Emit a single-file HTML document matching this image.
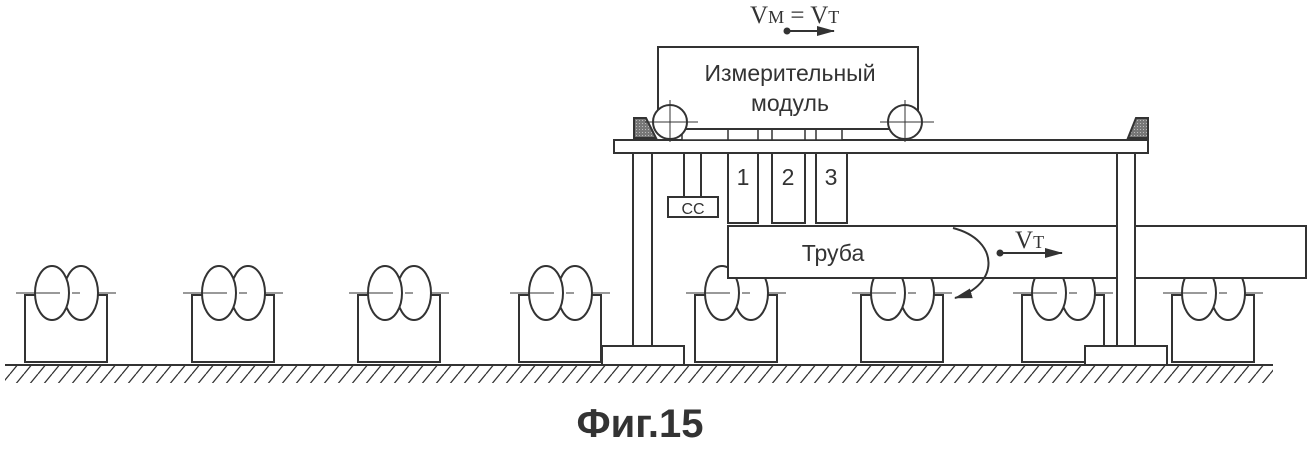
<!DOCTYPE html>
<html><head><meta charset="utf-8"><style>body{margin:0;background:#fff}</style></head><body>
<svg width="1314" height="448" viewBox="0 0 1314 448" xmlns="http://www.w3.org/2000/svg" font-family="Liberation Sans, sans-serif">
<defs>
<pattern id="h" width="14" height="17" patternUnits="userSpaceOnUse"><path d="M-4 17 L10 0 M10 17 L24 0" stroke="#333" stroke-width="1.3"/></pattern>
<marker id="a" markerWidth="18" markerHeight="12" refX="17" refY="6" orient="auto" markerUnits="userSpaceOnUse"><path d="M0 1 L18 6 L0 11 Z" fill="#333"/></marker>
<pattern id="g" width="3" height="3" patternUnits="userSpaceOnUse"><rect width="3" height="3" fill="#777"/><rect width="1" height="1" fill="#bbb"/></pattern>
</defs>
<g stroke="#333" stroke-width="2" fill="none">
<line x1="5" y1="365" x2="1273" y2="365"/>
<rect x="5" y="366" width="1268" height="17" fill="url(#h)" stroke="none"/>
<g id="s">
<rect x="25" y="295" width="82" height="67" fill="#fff"/>
<line x1="16" y1="293" x2="116" y2="293" stroke-width="1"/>
<ellipse cx="81" cy="293" rx="17" ry="27" fill="#fff"/>
<ellipse cx="52" cy="293" rx="17" ry="27" fill="#fff"/>
<line x1="16" y1="293" x2="60" y2="293" stroke-width="1"/>
<line x1="72" y1="293" x2="80" y2="293" stroke-width="1"/>
</g>
<use href="#s" x="167"/><use href="#s" x="333"/><use href="#s" x="494"/>
<use href="#s" x="670"/><use href="#s" x="836"/><use href="#s" x="997"/><use href="#s" x="1147"/>
<rect x="728" y="226" width="578" height="52" fill="#fff"/>
<rect x="633" y="153" width="19" height="193" fill="#fff"/>
<rect x="1117" y="153" width="18" height="193" fill="#fff"/>
<rect x="602" y="346" width="82" height="19" fill="#fff"/>
<rect x="1085" y="346" width="82" height="19" fill="#fff"/>
<rect x="614" y="140" width="534" height="13" fill="#fff"/>
<rect x="682" y="128" width="160" height="12" fill="#fff" stroke-width="1.5"/>
<line x1="728" y1="128" x2="728" y2="140" stroke-width="1.5"/><line x1="758" y1="128" x2="758" y2="140" stroke-width="1.5"/>
<line x1="772" y1="128" x2="772" y2="140" stroke-width="1.5"/><line x1="805" y1="128" x2="805" y2="140" stroke-width="1.5"/>
<line x1="816" y1="128" x2="816" y2="140" stroke-width="1.5"/>
<path d="M634 138 L634 118 L646 118 L656 138 Z" fill="url(#g)"/>
<path d="M1148 138 L1148 118 L1136 118 L1128 138 Z" fill="url(#g)"/>
<rect x="658" y="47" width="260" height="82" fill="#fff"/>
<circle cx="670" cy="122" r="17" fill="#fff"/>
<circle cx="905" cy="122" r="17" fill="#fff"/>
<path d="M645 122 H698 M670 100 V142 M880 122 H934 M905 100 V142" stroke-width="1"/>
<rect x="728" y="153" width="30" height="70" fill="#fff"/>
<rect x="772" y="153" width="33" height="70" fill="#fff"/>
<rect x="816" y="153" width="31" height="70" fill="#fff"/>
<line x1="684" y1="153" x2="684" y2="197"/><line x1="701" y1="153" x2="701" y2="197"/>
<rect x="668" y="197" width="50" height="20" fill="#fff"/>
<path d="M953 228 C 1000 240, 1000 285, 955 298" marker-end="url(#a)"/>
<line x1="1000" y1="253" x2="1062" y2="253" marker-end="url(#a)"/>
<line x1="787" y1="31" x2="834" y2="31" marker-end="url(#a)"/>
</g>
<circle cx="1000" cy="253" r="3.5" fill="#333"/>
<circle cx="787" cy="31" r="3.5" fill="#333"/>
<g fill="#333" font-size="23" text-anchor="middle">
<text x="790" y="81">Измерительный</text>
<text x="790" y="111">модуль</text>
<text x="743" y="185">1</text><text x="788" y="185">2</text><text x="831" y="185">3</text>
<text x="833" y="261">Труба</text>
<text x="693" y="214" font-size="16">CC</text>
</g>
<g fill="#333" font-family="Liberation Serif, serif" font-size="25">
<text x="750" y="23">V<tspan font-size="18">M</tspan> = V<tspan font-size="18">T</tspan></text>
<text x="1015" y="248">V<tspan font-size="18">T</tspan></text>
</g>
<text x="640" y="437" text-anchor="middle" font-size="40" font-weight="bold" fill="#333">Фиг.15</text>
</svg>
</body></html>
